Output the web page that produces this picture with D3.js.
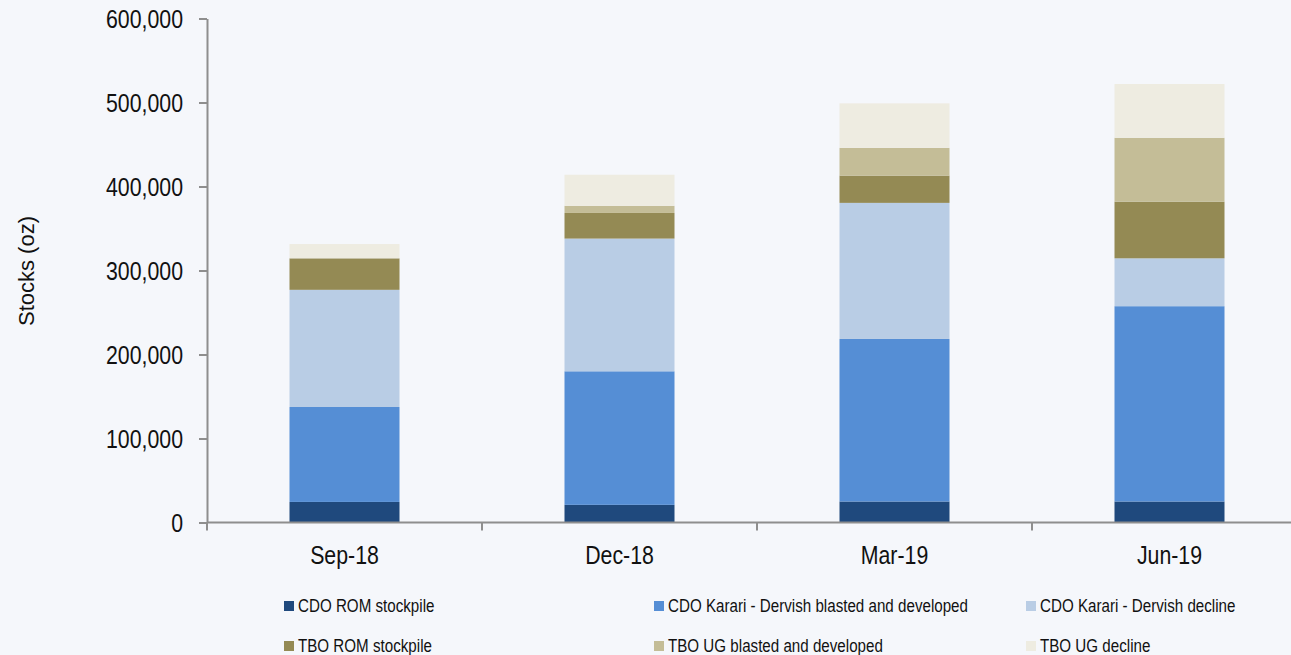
<!DOCTYPE html>
<html>
<head>
<meta charset="utf-8">
<script src="https://cdn.jsdelivr.net/npm/d3@7"></script>
<style>
  html, body { margin: 0; padding: 0; background: #f5f7fb; }
  svg { display: block; }
  text { font-family: "Liberation Sans", Arial, sans-serif; fill: #111; }
</style>
</head>
<body>
<svg id="chart" width="1291" height="655"></svg>
<script>
// Quarter-end stock levels (oz), stacked by source
const quarters = ["Sep-18", "Dec-18", "Mar-19", "Jun-19"];
const seriesNames = [
  "CDO ROM stockpile",
  "CDO Karari - Dervish blasted and developed",
  "CDO Karari - Dervish decline",
  "TBO ROM stockpile",
  "TBO UG blasted and developed",
  "TBO UG decline"
];
const cdoRomStockpile      = [24500, 21000, 25000, 25000];
const cdoKarariBlasted     = [113000, 159000, 193500, 232500];
const cdoKarariDecline     = [139500, 158000, 162000, 57000];
const tboRomStockpile      = [37500, 30500, 32500, 67500];
const tboUgBlasted         = [0, 8500, 33000, 76000];
const tboUgDecline         = [17000, 37000, 53000, 64000];
const yTickValues = [0, 100000, 200000, 300000, 400000, 500000, 600000];
const seriesColors = ["#1f497d", "#558ed5", "#b9cde5", "#948a54", "#c4bd97", "#eeece1"];

const seriesValues = [cdoRomStockpile, cdoKarariBlasted, cdoKarariDecline,
                      tboRomStockpile, tboUgBlasted, tboUgDecline];

const rows = quarters.map((q, i) => {
  const r = { quarter: q };
  seriesNames.forEach((s, j) => { r[s] = seriesValues[j][i]; });
  return r;
});

const svg = d3.select("#chart");
const axisColor = "#8e8e8e";
// Horizontal condensing factor for the narrow label face
const SQUEEZE = 0.82;
function condense(sel, xPos) {
  sel.attr("x", xPos / SQUEEZE).attr("transform", `scale(${SQUEEZE},1)`);
}

const x = d3.scaleBand()
  .domain(quarters)
  .range([207, 1307])
  .paddingInner(0.6)
  .paddingOuter(0.3);

const y = d3.scaleLinear()
  .domain([0, 600000])
  .range([522.5, 18.5]);

const color = d3.scaleOrdinal().domain(seriesNames).range(seriesColors);

const stacked = d3.stack().keys(seriesNames)(rows);

// Bars
svg.append("g")
  .selectAll("g")
  .data(stacked)
  .join("g")
  .attr("fill", d => color(d.key))
  .selectAll("rect")
  .data(d => d)
  .join("rect")
  .attr("x", d => x(d.data.quarter))
  .attr("width", x.bandwidth())
  .attr("y", d => y(d[1]))
  .attr("height", d => y(d[0]) - y(d[1]));

// Y axis
const yAxis = svg.append("g")
  .attr("transform", "translate(207,0)")
  .call(d3.axisLeft(y)
    .tickValues(yTickValues)
    .tickFormat(d3.format(","))
    .tickSize(8)
    .tickSizeOuter(0)
    .tickPadding(16));
yAxis.attr("font-family", null).attr("font-size", null);
yAxis.select(".domain").attr("stroke", axisColor).attr("stroke-width", 2);
yAxis.selectAll(".tick line").attr("stroke", axisColor).attr("stroke-width", 2);
yAxis.selectAll(".tick text")
  .attr("font-size", 26)
  .attr("fill", "#111")
  .attr("dy", "0.36em")
  .call(condense, -24);

// X axis baseline with ticks at category boundaries
const gap = (x.step() - x.bandwidth()) / 2;
const xAxis = svg.append("g");
xAxis.append("line")
  .attr("x1", 207).attr("x2", 1291)
  .attr("y1", y(0)).attr("y2", y(0))
  .attr("stroke", axisColor).attr("stroke-width", 2);
const boundaries = quarters.map(q => x(q) - gap);
xAxis.selectAll("line.bound")
  .data(boundaries)
  .join("line")
  .attr("class", "bound")
  .attr("x1", d => d).attr("x2", d => d)
  .attr("y1", y(0)).attr("y2", y(0) + 8)
  .attr("stroke", axisColor).attr("stroke-width", 2);
xAxis.selectAll("text")
  .data(quarters)
  .join("text")
  .attr("y", 564)
  .attr("text-anchor", "middle")
  .attr("font-size", 26)
  .text(d => d)
  .each(function (d) { d3.select(this).call(condense, x(d) + x.bandwidth() / 2); });

// Y axis title
svg.append("text")
  .attr("transform", "translate(34,271) rotate(-90)")
  .attr("text-anchor", "middle")
  .attr("font-size", 22)
  .text("Stocks (oz)");

// Legend: two rows, three columns
const legendCols = [284, 654, 1026];
const legendRows = [601, 641];
const legend = svg.append("g")
  .selectAll("g")
  .data(seriesNames)
  .join("g")
  .attr("transform", (d, i) => `translate(${legendCols[i % 3]},${legendRows[Math.floor(i / 3)]})`);
legend.append("rect")
  .attr("width", 10).attr("height", 10)
  .attr("fill", d => color(d));
legend.append("text")
  .attr("y", 11)
  .attr("font-size", 18.5)
  .text(d => d)
  .call(condense, 14);
</script>
</body>
</html>
